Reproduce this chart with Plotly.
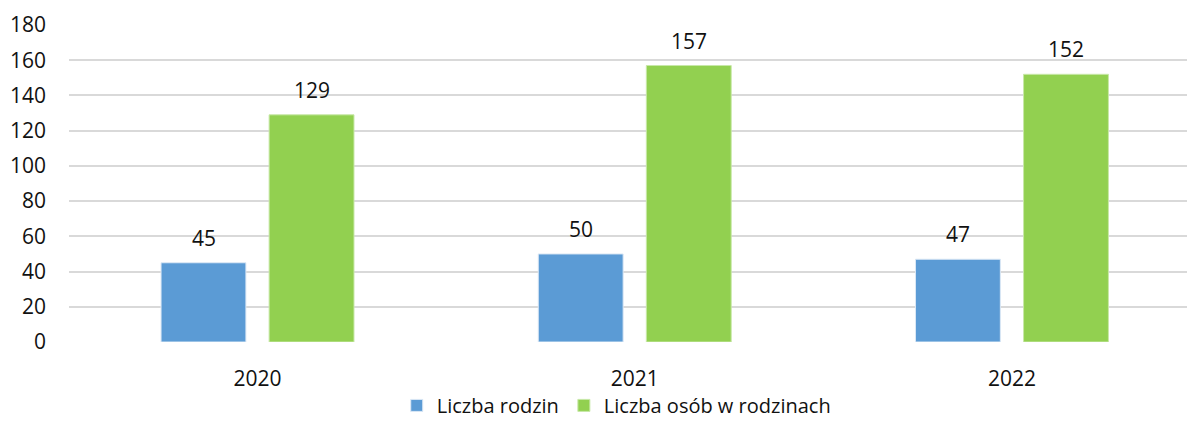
import plotly.graph_objects as go

years = ["2020", "2021", "2022"]
rodziny = [45, 50, 47]
osoby = [129, 157, 152]
yticks = [0, 20, 40, 60, 80, 100, 120, 140, 160, 180]

FONT = "Open Sans, Liberation Sans, sans-serif"
FS = 21
fig = go.Figure()
fig.add_bar(x=years, y=rodziny, name="Liczba rodzin", marker_color="#5B9BD5",
            marker_line=dict(color="#DCE8F5", width=1), width=0.225, offset=-0.256)
fig.add_bar(x=years, y=osoby, name="Liczba osób w rodzinach", marker_color="#92D050",
            marker_line=dict(color="#C8E8A8", width=1), width=0.225, offset=0.0305)

for i, y in enumerate(years):
    fig.add_annotation(x=i, y=rodziny[i], text=str(rodziny[i]), showarrow=False,
                       xshift=-54, yshift=25, font=dict(size=FS, color="#111", family=FONT))
    fig.add_annotation(x=i, y=osoby[i], text=str(osoby[i]), showarrow=False,
                       xshift=54, yshift=25, font=dict(size=FS, color="#111", family=FONT))

fig.update_layout(
    width=1187, height=415,
    margin=dict(l=61, r=0, t=17, b=81, autoexpand=False),
    plot_bgcolor="white", paper_bgcolor="white",
    barmode="overlay",
    font=dict(family=FONT, size=FS, color="#111"),
    showlegend=True,
    legend=dict(orientation="h", x=0.486, xanchor="center",
                y=-0.2, yanchor="middle", font=dict(size=20),
                bgcolor="rgba(0,0,0,0)"),
    xaxis=dict(type="category", range=[-0.5, 2.485], showgrid=False, zeroline=False,
               showline=False, ticks="", ticklabelstandoff=22),
    yaxis=dict(range=[0, 180], tickvals=yticks, showgrid=True, gridcolor="#D9D9D9",
               gridwidth=2, zeroline=False, showline=False, ticks="", ticklabelstandoff=22),
)
fig.write_html("out.html")
